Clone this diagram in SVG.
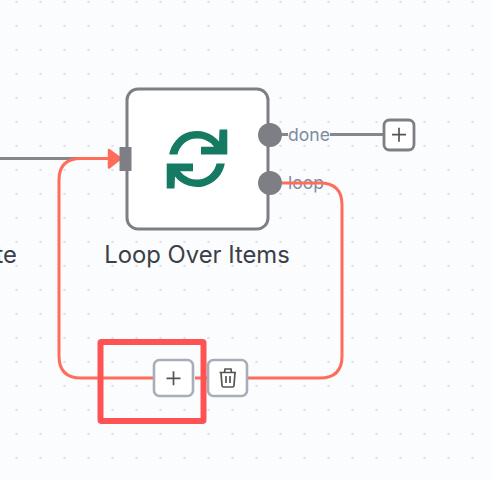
<svg xmlns="http://www.w3.org/2000/svg" width="492" height="480" viewBox="0 0 492 480">
<defs>
<pattern id="grid" x="4.5" y="2" width="24" height="24" patternUnits="userSpaceOnUse"><rect x="11.2" y="-0.8" width="1.6" height="1.6" fill="#c8cbd1"/><rect x="11.2" y="23.2" width="1.6" height="1.6" fill="#c8cbd1"/></pattern>
</defs>
<style>
.lbl{font-family:Inter,"Liberation Sans",sans-serif}
.wire{fill:none;stroke:#ff6d5a;stroke-width:3}
.gray{fill:none;stroke:#85878c;stroke-width:3}
.btn{fill:#fff;stroke:#a8adba;stroke-width:2.6}
.ico{fill:none;stroke:#555;stroke-width:1.7}
</style>
<rect width="492" height="480" fill="#fbfcfe"/>
<rect width="492" height="480" fill="url(#grid)"/>
<g id="connectors">
<path class="gray" d="M0 158.500H119"/>
<path class="gray" d="M282 134.500H288M330 134.500H384"/>
<text class="lbl" x="288" y="140.500" font-size="17.600" fill="#7d8ba0">done</text>
<text class="lbl" x="288" y="188.500" font-size="17.600" fill="#7d8ba0">loop</text>
<path class="wire" d="M282 183H320Q342 183 342 205V356Q342 378 320 378H248M207 378H195M153 378H81Q59 378 59 356V180Q59 158.500 81 158.500H110"/>
<path d="M109 150L120.500 158.500L109 167.500Z" fill="#ff6d5a" stroke="#ff6d5a" stroke-width="2.500" stroke-linejoin="round"/>
</g>
<g id="node-loop">
<rect x="127" y="89" width="141" height="140" rx="11" fill="#fff" stroke="#7d7f85" stroke-width="3"/>
<rect x="119.500" y="147" width="12" height="24" fill="#7d7f85"/>
<circle cx="270" cy="135" r="12" fill="#7d7f85"/>
<circle cx="270" cy="183" r="12" fill="#7d7f85"/>
<g fill="#147a62">
<path d="M169.200 154.500A28.200 28.200 0 0 1 219 141.500L219.500 129.500H227.300V154.500H201V146.700H214A20.500 20.500 0 0 0 177.500 154.500Z"/>
<path transform="rotate(180 197 159)" d="M169.200 154.500A28.200 28.200 0 0 1 219 141.500L219.500 129.500H227.300V154.500H201V146.700H214A20.500 20.500 0 0 0 177.500 154.500Z"/>
</g>
<text class="lbl" x="197" y="263" font-size="23.800" fill="#3c3f46" text-anchor="middle">Loop Over Items</text>
</g>
<g id="node-left-label"><text class="lbl" x="17" y="263" font-size="23.800" fill="#3c3f46" text-anchor="end">te</text></g>
<g id="add-done">
<rect x="384" y="120" width="30" height="30" rx="5.500" fill="#fff" stroke="#7d7f85" stroke-width="2.800"/>
<path class="ico" d="M392 134.700H406M399 127.700V141.700"/>
</g>
<g id="add-loop">
<rect class="btn" x="154" y="360" width="39" height="36" rx="5.500"/>
<path class="ico" d="M166.500 378.300H180.500M173.500 371.300V385.300"/>
</g>
<g id="delete-loop">
<rect class="btn" x="208" y="360" width="39" height="36" rx="5.500"/>
<path class="ico" d="M219.500 372.500H236M224.500 372.500L225 369H231L231.500 372.500M221 372.500L222 385.500Q222 387 223.500 387H232.500Q234 387 234 385.500L235 372.500M226 376V383M230 376V383"/>
</g>
<g id="selection">
<rect x="100.500" y="342" width="103" height="79" rx="1" fill="none" stroke="#ff5252" stroke-width="6"/>
</g>
</svg>
